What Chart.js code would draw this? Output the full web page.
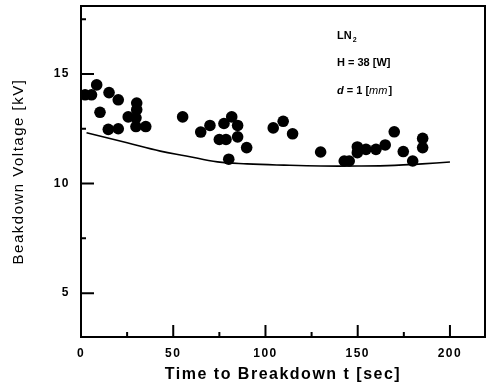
<!DOCTYPE html>
<html><head><meta charset="utf-8">
<script src="https://cdn.jsdelivr.net/npm/chart.js@4/dist/chart.umd.min.js"></script>
<style>html,body{margin:0;padding:0;background:#fff}#wrap{width:486px;height:385px}</style>
</head><body><div id="wrap"><canvas id="c"></canvas></div>
<script>
const measuredX = [2.2,5.7,8.5,15.2,20.2,10.3,14.8,20.2,30.2,30.2,25.6,29.8,29.8,35.1,
  55.1,64.9,69.9,77.5,81.7,84.9,75,78.6,84.9,89.8,80.1,104.2,109.6,114.7,129.9,
  142.7,145.4,149.8,149.8,154.5,159.9,164.9,169.8,174.7,179.8,185.2,185.2];
const measuredY = [14.05,14.05,14.5,14.15,13.82,13.25,12.47,12.5,13.67,13.37,13.04,13.0,12.6,12.6,
  13.04,12.35,12.65,12.74,13.04,12.65,12.01,12.01,12.13,11.64,11.11,12.54,12.84,12.27,11.44,
  11.03,11.03,11.67,11.41,11.56,11.56,11.76,12.36,11.46,11.03,12.06,11.64];
const curveX = [3,25,43,57,74,90,110,130,150,170,185,200];
const curveY = [12.32,11.86,11.48,11.26,10.99,10.9,10.84,10.8,10.8,10.83,10.9,10.98];
const xMajorTicks = [0,50,100,150,200];
const xMinorTicks = [25,75,125,175];
const yMajorTicks = [5,10,15];
const yMinorTicks = [7.5,12.5,17.5];
const annotations = ["LN", "H = 38 [W]", "d", "mm"];

const frame = {
  id:'frame',
  beforeDraw(chart){ chart.ctx.letterSpacing='1.5px'; },
  afterDraw(chart){
    const {ctx, chartArea:a, scales:{x,y}} = chart;
    ctx.save();
    ctx.letterSpacing='0px';
    ctx.strokeStyle='#000';
    ctx.lineWidth=2;
    ctx.strokeRect(a.left, a.top, a.right-a.left, a.bottom-a.top);
    ctx.beginPath();
    xMajorTicks.forEach(v=>{const p=x.getPixelForValue(v); ctx.moveTo(p,a.bottom); ctx.lineTo(p,a.bottom-12);});
    xMinorTicks.forEach(v=>{const p=x.getPixelForValue(v); ctx.moveTo(p,a.bottom); ctx.lineTo(p,a.bottom-5);});
    yMajorTicks.forEach(v=>{const p=y.getPixelForValue(v); ctx.moveTo(a.left,p); ctx.lineTo(a.left+13,p);});
    yMinorTicks.forEach(v=>{const p=y.getPixelForValue(v); ctx.moveTo(a.left,p); ctx.lineTo(a.left+5,p);});
    ctx.stroke();
    // annotations
    ctx.fillStyle='#000';
    ctx.textBaseline='middle';
    ctx.textAlign='left';
    const tx=337;
    ctx.font='bold 11px "Liberation Sans", Arial, sans-serif';
    ctx.fillText(annotations[0], tx, 36);
    const w=ctx.measureText(annotations[0]).width;
    ctx.font='bold 7px "Liberation Sans", Arial, sans-serif';
    ctx.fillText('2', tx+w+1, 40);
    ctx.font='bold 11px "Liberation Sans", Arial, sans-serif';
    ctx.fillText(annotations[1], tx, 63);
    ctx.font='italic bold 11px "Liberation Sans", Arial, sans-serif';
    ctx.fillText(annotations[2], tx, 91);
    let cx = tx + ctx.measureText(annotations[2]).width;
    ctx.font='bold 11px "Liberation Sans", Arial, sans-serif';
    ctx.fillText(' = 1 [', cx, 91);
    cx += ctx.measureText(' = 1 [').width;
    ctx.font='italic 11px "Liberation Sans", Arial, sans-serif';
    ctx.fillText(annotations[3], cx, 91);
    cx += ctx.measureText(annotations[3]).width;
    ctx.font='bold 11px "Liberation Sans", Arial, sans-serif';
    ctx.fillText(']', cx+1, 91);
    ctx.restore();
  }
};

new Chart(document.getElementById('c'), {
  type:'scatter',
  data:{datasets:[
    {type:'line', data:curveX.map((v,i)=>({x:v,y:curveY[i]})), borderColor:'#000', borderWidth:1.6,
     pointRadius:0, tension:0.4, fill:false},
    {data:measuredX.map((v,i)=>({x:v,y:measuredY[i]})), backgroundColor:'#000', borderColor:'#000',
     pointRadius:5.8, pointBorderWidth:0}
  ]},
  options:{
    responsive:true, maintainAspectRatio:false, animation:false,
    layout:{autoPadding:false, padding:{top:6,right:1,left:0,bottom:0}},
    plugins:{legend:{display:false}, tooltip:{enabled:false}},
    scales:{
      x:{type:'linear', min:0, max:219,
        afterBuildTicks:s=>{s.ticks=xMajorTicks.map(v=>({value:v}));},
        afterFit:s=>{s.height=48; s.paddingLeft=0; s.paddingRight=0;},
        grid:{display:false, drawTicks:false},
        border:{display:false},
        ticks:{color:'#000', padding:9, maxRotation:0, font:{family:'"Liberation Sans", Arial', size:12, weight:'bold'}},
        title:{display:true, text:'Time to Breakdown t [sec]', color:'#000', padding:{top:0,bottom:1},
          font:{family:'"Liberation Sans", Arial', size:16, weight:'bold'}}
      },
      y:{type:'linear', min:3, max:18.1,
        afterBuildTicks:s=>{s.ticks=yMajorTicks.map(v=>({value:v}));},
        afterFit:s=>{s.width=81; s.paddingTop=0; s.paddingBottom=0;},
        grid:{display:false, drawTicks:false},
        border:{display:false},
        ticks:{color:'#000', padding:11, font:{family:'"Liberation Sans", Arial', size:12, weight:'bold'}},
        title:{display:true, text:'Beakdown Voltage [kV]', color:'#000', padding:{top:10,bottom:0},
          font:{family:'"Liberation Sans", Arial', size:15, weight:'normal'}}
      }
    }
  },
  plugins:[frame]
});
</script></body></html>
